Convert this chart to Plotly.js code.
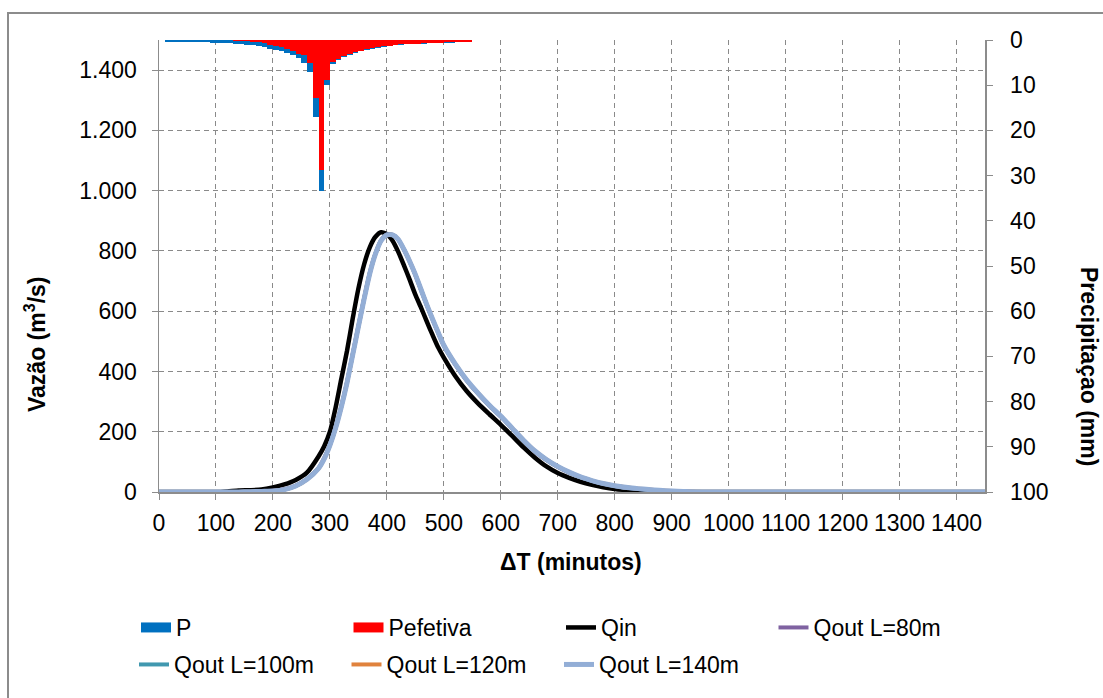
<!DOCTYPE html>
<html>
<head>
<meta charset="utf-8">
<script src="https://cdn.plot.ly/plotly-3.0.1.min.js"></script>
<style>
  html, body { margin: 0; padding: 0; background: #ffffff; }
  #chart { width: 1103px; height: 698px; }
</style>
</head>
<body>
<div id="chart"></div>
<script>
// ---------- DATA ----------
// Hyetograph: start time of each 10-minute interval (min)
const rainTime = [10,20,30,40,50,60,70,80,90,100,110,120,130,140,150,160,170,180,190,200,
  210,220,230,240,250,260,270,280,290,300,310,320,330,340,350,360,370,380,390,400,
  410,420,430,440,450,460,470,480,490,500,510,520,530,540];
// Total precipitation P (mm)
const rainP = [0.45,0.45,0.5,0.5,0.5,0.5,0.55,0.55,0.65,0.7,0.7,0.75,0.9,0.95,1.0,1.2,1.4,1.6,1.9,2.2,
  2.5,2.8,3.3,3.9,5.1,7.0,17.0,33.5,9.9,5.4,4.4,3.8,3.3,2.9,2.5,2.2,1.9,1.7,1.5,1.3,
  1.15,1.0,0.95,0.9,0.85,0.8,0.75,0.7,0.65,0.6,0.6,0.55,0.55,0.5];
// Effective precipitation Pefetiva (mm)
const rainPe = [0,0,0,0,0,0,0,0,0,0,0.05,0.1,0.15,0.2,0.3,0.4,0.55,0.75,1.0,1.3,
  1.6,1.9,2.4,3.0,3.3,5.1,12.9,28.8,8.8,4.9,4.1,3.6,3.1,2.7,2.4,2.1,1.8,1.6,1.4,1.25,
  1.1,0.95,0.9,0.85,0.8,0.7,0.65,0.65,0.6,0.55,0.55,0.5,0.5,0.45];

// Hydrographs: time (min) and discharge (m3/s)
const hydroTime = [0,100,120,140,160,180,200,220,240,260,280,290,300,310,320,330,340,350,360,370,
  380,390,400,410,420,430,440,450,460,470,480,490,500,520,540,560,580,600,620,640,
  660,680,700,720,740,760,780,800,830,860,890,920,960,1450];
const qIn = [0,0,2,5,6,8,15,25,40,65,118,152,200,280,375,468,575,675,755,812,
  847,862,856,834,797,752,705,655,612,566,522,480,446,385,335,294,258,223,186,148,
  114,85,63,47,34,24,16,10,5,2,0,0,0,0];
const qOut80 = [0,0,0,0,1,2,4,9,21,44,80,113,158,215,285,365,458,551,643,728,
  792,836,855,853,837,804,764,720,670,620,573,528,485,423,370,326,286,250,210,170,
  134,106,83,64,49,37,27,20,12,7,3,1,0,0];
const qOut100 = [0,0,0,0,1,2,3,8,20,43,79,111,156,213,283,363,456,549,641,726,
  791,835,854,853,838,805,765,721,671,621,574,529,486,424,371,327,287,251,211,171,
  135,107,84,65,49,37,27,20,12,7,3,1,0,0];
const qOut120 = [0,0,0,0,1,2,3,8,20,42,78,110,155,212,282,362,455,548,640,725,
  790,834,853,853,838,805,766,722,672,622,575,530,487,425,372,328,288,252,212,172,
  136,108,85,66,50,38,28,21,13,8,4,2,0,0];
const qOut140 = [0,0,0,0,1,2,3,8,20,42,78,110,155,212,282,362,455,548,640,725,
  790,834,853,853,838,805,766,722,672,622,575,530,487,425,372,328,288,252,212,172,
  136,108,85,66,50,38,28,21,13,8,4,2,0,0];

const xTickVals = [0,100,200,300,400,500,600,700,800,900,1000,1100,1200,1300,1400];

// ---------- STYLE ----------
const FONT = 'Liberation Sans, Arial, sans-serif';
const FS = 23;
const AX = '#8c8c8c';
const GRID = '#8a8a8a';
const PLOT_L = 159, PLOT_R = 985, PLOT_T = 40, PLOT_B = 492, W = 1103, H = 698;
const PW = PLOT_R - PLOT_L, PH = PLOT_B - PLOT_T;
const px2x = p => (p - PLOT_L) / PW;
const py2y = p => (PLOT_B - p) / PH;

const traces = [
  { type: 'bar', name: 'P', x: rainTime, y: rainP, width: 10, offset: 0,
    xaxis: 'x', yaxis: 'y2', marker: { color: '#0070C0', line: { width: 0 } }, showlegend: false },
  { type: 'bar', name: 'Pefetiva', x: rainTime, y: rainPe, width: 10, offset: 0,
    xaxis: 'x', yaxis: 'y2', marker: { color: '#FF0000', line: { width: 0 } }, showlegend: false },
  // legend entries for the bar series (drawn as wide swatches)
  { type: 'scatter', mode: 'lines', name: 'P', x: [null], y: [null], legend: 'legend',
    line: { color: '#0070C0', width: 10 } },
  { type: 'scatter', mode: 'lines', name: 'Pefetiva', x: [null], y: [null], legend: 'legend',
    line: { color: '#FF0000', width: 10 } },
  { type: 'scatter', mode: 'lines', name: 'Qin', x: hydroTime, y: qIn, legend: 'legend',
    line: { color: '#000000', width: 4.5, shape: 'spline', smoothing: 0.6 } },
  { type: 'scatter', mode: 'lines', name: 'Qout L=80m', x: hydroTime, y: qOut80, legend: 'legend',
    line: { color: '#7F62A1', width: 4, shape: 'spline', smoothing: 0.6 } },
  { type: 'scatter', mode: 'lines', name: 'Qout L=100m', x: hydroTime, y: qOut100, legend: 'legend2',
    line: { color: '#4198AF', width: 4, shape: 'spline', smoothing: 0.6 } },
  { type: 'scatter', mode: 'lines', name: 'Qout L=120m', x: hydroTime, y: qOut120, legend: 'legend2',
    line: { color: '#E0823D', width: 4, shape: 'spline', smoothing: 0.6 } },
  { type: 'scatter', mode: 'lines', name: 'Qout L=140m', x: hydroTime, y: qOut140, legend: 'legend2',
    line: { color: '#93AED6', width: 5, shape: 'spline', smoothing: 0.6 } }
];

const legendCommon = {
  orientation: 'h', xanchor: 'left', yanchor: 'top',
  font: { family: FONT, size: FS, color: '#000' },
  bgcolor: 'rgba(0,0,0,0)', borderwidth: 0,
  entrywidth: 167.5, entrywidthmode: 'pixels', traceorder: 'normal'
};

const layout = {
  width: W, height: H,
  margin: { l: PLOT_L, r: W - PLOT_R, t: PLOT_T, b: H - PLOT_B, pad: 0 },
  paper_bgcolor: '#ffffff', plot_bgcolor: '#ffffff',
  font: { family: FONT, size: FS, color: '#000' },
  separators: ',.',
  barmode: 'overlay', bargap: 0,
  showlegend: true,
  xaxis: {
    range: [0, 1450], tickmode: 'array', tickvals: xTickVals,
    ticks: 'outside', ticklen: 6, tickcolor: AX, tickwidth: 1,
    showline: true, linecolor: AX, linewidth: 1.5,
    showgrid: true, gridcolor: GRID, griddash: '5px,4px', gridwidth: 1,
    zeroline: false, ticklabelstandoff: 4,
    tickfont: { family: FONT, size: FS, color: '#000' }
  },
  yaxis: {
    range: [0, 1500], tick0: 0, dtick: 200, separatethousands: true, tickformat: ',d',
    ticks: 'outside', ticklen: 6, tickcolor: AX, tickwidth: 1,
    showline: true, linecolor: AX, linewidth: 1.5,
    showgrid: true, gridcolor: GRID, griddash: '5px,4px', gridwidth: 1,
    zeroline: false, ticklabelstandoff: 10,
    tickfont: { family: FONT, size: FS, color: '#000' }
  },
  yaxis2: {
    overlaying: 'y', side: 'right', range: [100, 0], tick0: 0, dtick: 10,
    ticks: 'outside', ticklen: 6, tickcolor: AX, tickwidth: 1,
    showline: true, linecolor: AX, linewidth: 1.5,
    showgrid: false, zeroline: false, ticklabelstandoff: 13,
    tickfont: { family: FONT, size: FS, color: '#000' }
  },
  legend: Object.assign({}, legendCommon, { x: px2x(136), y: py2y(606) }),
  legend2: Object.assign({}, legendCommon, { x: px2x(134), y: py2y(643) }),
  annotations: [
    { text: '<b>Vazão (m<sup>3</sup>/s)</b>', xref: 'paper', yref: 'paper',
      x: px2x(35), y: py2y(344), xanchor: 'center', yanchor: 'middle', textangle: -90,
      showarrow: false, font: { family: FONT, size: FS, color: '#000' } },
    { text: '<b>Precipitaçao (mm)</b>', xref: 'paper', yref: 'paper',
      x: px2x(1089), y: py2y(366), xanchor: 'center', yanchor: 'middle', textangle: 90,
      showarrow: false, font: { family: FONT, size: FS, color: '#000' } },
    { text: '<b>ΔT (minutos)</b>', xref: 'paper', yref: 'paper',
      x: px2x(571), y: py2y(562), xanchor: 'center', yanchor: 'middle',
      showarrow: false, font: { family: FONT, size: FS, color: '#000' } }
  ],
  shapes: [
    { type: 'rect', xref: 'paper', yref: 'paper', layer: 'below',
      x0: px2x(8), x1: px2x(1120), y0: py2y(13), y1: py2y(720),
      line: { color: '#8c8c8c', width: 2 }, fillcolor: 'rgba(0,0,0,0)' }
  ]
};

Plotly.newPlot('chart', traces, layout, { displayModeBar: false, staticPlot: true });
</script>
</body>
</html>
